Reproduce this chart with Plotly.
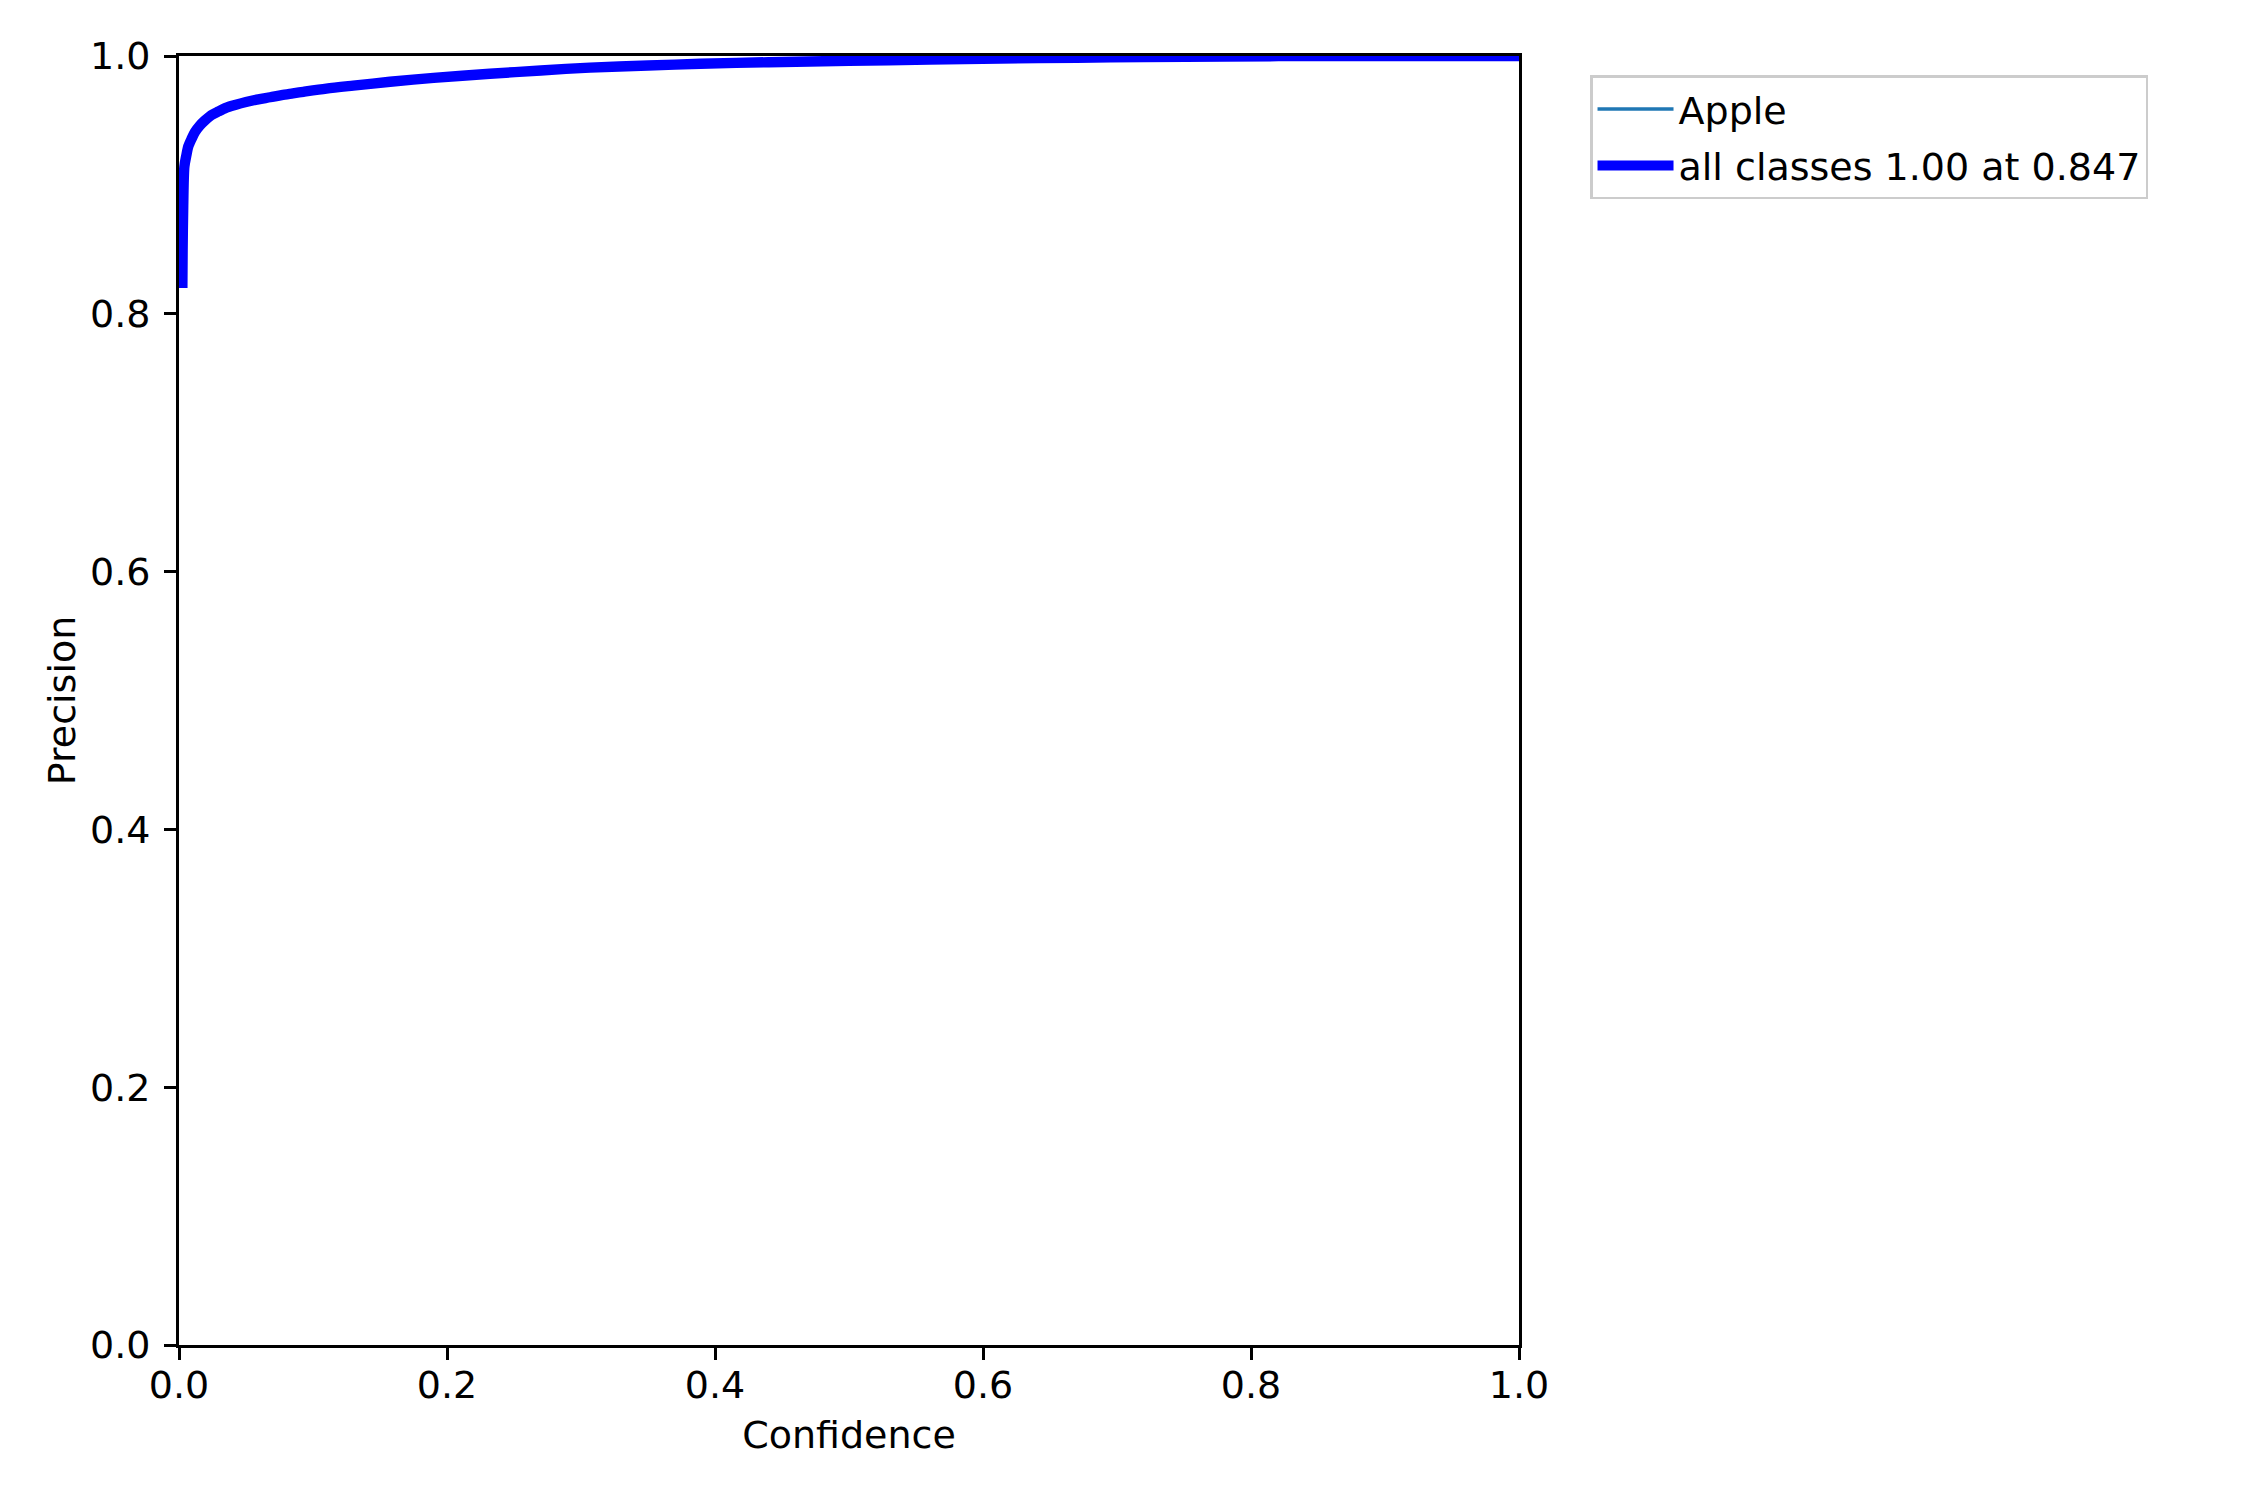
import plotly.graph_objects as go

# Data
confidence = [0.0025, 0.0027, 0.0031, 0.0040, 0.0055, 0.0070, 0.0095, 0.0119, 0.0155,
              0.0194, 0.024, 0.0294, 0.035, 0.0418, 0.050, 0.0592, 0.068, 0.0766,
              0.085, 0.0928, 0.11, 0.13, 0.1575, 0.19, 0.232, 0.27, 0.3067, 0.35,
              0.389, 0.44, 0.50, 0.56, 0.613, 0.67, 0.72, 0.78, 0.847, 1.0]
precision = [0.820, 0.850, 0.880, 0.914, 0.923, 0.930, 0.936, 0.941, 0.946,
             0.950, 0.954, 0.957, 0.9598, 0.962, 0.9643, 0.9664, 0.968, 0.9697,
             0.971, 0.9722, 0.9747, 0.977, 0.980, 0.983, 0.9862, 0.9888, 0.991, 0.9926,
             0.994, 0.9952, 0.9963, 0.9972, 0.998, 0.9987, 0.9992, 0.9996, 1.0, 1.0]
class_name = "Apple"
all_label = "all classes 1.00 at 0.847"
tick_vals = [0.0, 0.2, 0.4, 0.6, 0.8, 1.0]
tick_text = ["0.0", "0.2", "0.4", "0.6", "0.8", "1.0"]

FONT = "DejaVu Sans"
FS = 38

fig = go.Figure()
fig.add_trace(go.Scatter(x=confidence, y=precision, mode="lines", name=class_name,
                         line=dict(color="#1f77b4", width=3.5, shape="spline", smoothing=0.8),
                         legendgroup="a"))
fig.add_trace(go.Scatter(x=confidence, y=precision, mode="lines", name=all_label,
                         line=dict(color="#0000ff", width=10.4, shape="spline", smoothing=0.8),
                         legendgroup="b"))

axis_common = dict(range=[0, 1], tickmode="array", tickvals=tick_vals, ticktext=tick_text,
                   showgrid=False, zeroline=False, showline=True, mirror=True,
                   linecolor="black", linewidth=2.8, ticks="outside", ticklen=12,
                   tickwidth=2.8, tickcolor="black",
                   tickfont=dict(family=FONT, size=FS, color="black"))

# page body has an 8px default margin; compensate so the plot area sits where it should
fig.update_layout(
    width=2242, height=1492,
    margin=dict(l=171, r=731, t=48, b=155, pad=0),
    paper_bgcolor="white", plot_bgcolor="white",
    font=dict(family=FONT, size=FS, color="black"),
    xaxis=dict(**axis_common, title=dict(text="Confidence", font=dict(family=FONT, size=FS), standoff=16),
               ticklabelstandoff=-8),
    yaxis=dict(**axis_common, title=dict(text="Precision", font=dict(family=FONT, size=FS), standoff=3),
               ticklabelstandoff=6),
    legend=dict(x=1.053, y=0.985, xanchor="left", yanchor="top",
                bordercolor="#cccccc", borderwidth=2.5, bgcolor="white",
                font=dict(family=FONT, size=FS, color="black"),
                tracegroupgap=4, itemwidth=76),
    showlegend=True,
)

fig.write_html("out.html")
